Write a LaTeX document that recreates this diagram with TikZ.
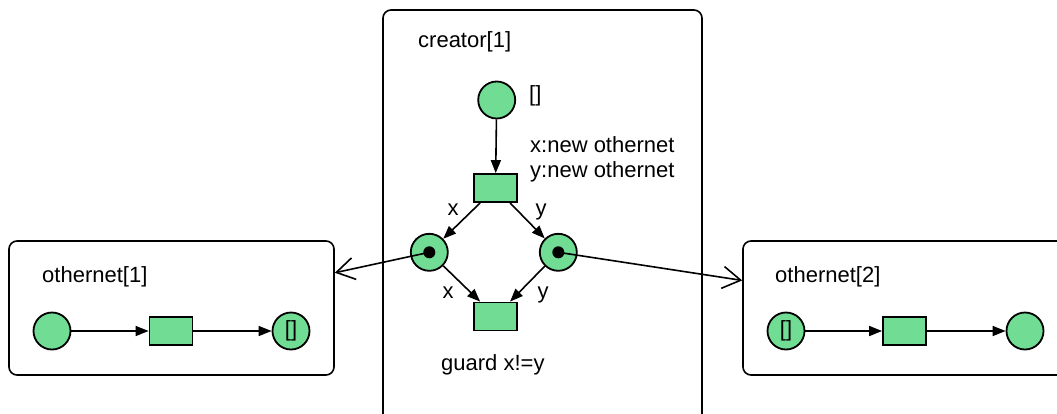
\documentclass[tikz,border=0pt]{standalone}
\usepackage{fontspec}
\setmainfont{Liberation Sans}
\usetikzlibrary{arrows.meta}
\definecolor{placegreen}{RGB}{112,220,148}
\begin{document}
\begin{tikzpicture}[x=1pt,y=-1pt,
  every node/.style={font=\fontsize{22}{25}\selectfont},
  net/.style={draw, line width=1.6pt, rounded corners=8pt, inner sep=0pt},
  place/.style={circle, draw, line width=1.8pt, fill=placegreen, minimum size=37pt, inner sep=0pt},
  trans/.style={rectangle, draw, line width=1.8pt, fill=placegreen, minimum width=43pt, minimum height=28pt, inner sep=0pt},
  token/.style={circle, fill=black, minimum size=12pt, inner sep=0pt},
  arc/.style={line width=1.6pt, -{Triangle[length=13pt,width=10pt]}},
  ref/.style={line width=1.6pt, -{Straight Barb[length=18pt,width=22pt]}},
  lbl/.style={inner sep=0pt, anchor=base west},
  arclbl/.style={inner sep=0pt, anchor=base}]
\useasboundingbox (0,0) rectangle (1057,413);
\clip (0,0) rectangle (1057,413);

% net instances
\node[net, minimum width=325pt, minimum height=134pt] (netL) at (171.5,308) {};
\node[net, minimum width=319pt, minimum height=420pt] (creator) at (542.5,220) {};
\node[net, minimum width=363pt, minimum height=134pt] (netR) at (924.5,308) {};

% creator net
\node[lbl] (creatorName) at (418,47) {creator[1]};
\node[place] (pTop) at (496.7,100) {};
\node[lbl] (pTopInit) at (529,101) {[]};
\node[trans] (tTop) at (495.5,188) {};
\node[lbl] (newX) at (530,152) {x:new othernet};
\node[lbl] (newY) at (530,177) {y:new othernet};
\node[place] (pX) at (429.3,252.3) {};
\node[place] (pY) at (558.3,252.3) {};
\node[token] (tokX) at (pX.center) {};
\node[token] (tokY) at (pY.center) {};
\node[trans] (tBot) at (495.5,316.5) {};
\node[lbl] (guard) at (441,370) {guard x!=y};

\node[arclbl] (lx1) at (453,215) {x};
\node[arclbl] (ly1) at (541,215) {y};
\node[arclbl] (lx2) at (448,298) {x};
\node[arclbl] (ly2) at (543,298) {y};

\draw[arc] (pTop) -- (tTop);
\draw[arc] (tTop) -- (pX);
\draw[arc] (tTop) -- (pY);
\draw[arc] (pX) -- (tBot);
\draw[arc] (pY) -- (tBot);

% othernet[1]
\node[lbl] (name1) at (42,282) {othernet[1]};
\node[place] (a1) at (52,331) {};
\node[trans] (t1) at (171,331) {};
\node[place] (b1) at (291,331) {[]};
\draw[arc] (a1) -- (t1);
\draw[arc] (t1) -- (b1);

% othernet[2]
\node[lbl] (name2) at (775,282) {othernet[2]};
\node[place] (a2) at (786,331) {[]};
\node[trans] (t2) at (904.5,331) {};
\node[place] (b2) at (1025,331) {};
\draw[arc] (a2) -- (t2);
\draw[arc] (t2) -- (b2);

% references from tokens to net instances
\draw[ref] (tokX.center) -- (netL);
\draw[ref] (tokY.center) -- (netR);
\end{tikzpicture}
\end{document}
